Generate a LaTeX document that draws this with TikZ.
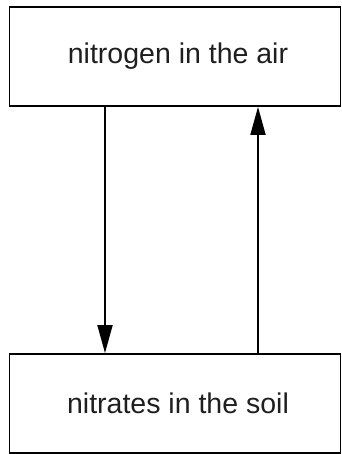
\documentclass[tikz,border=0pt]{standalone}
\usepackage{fontspec}
\setmainfont{Liberation Sans}
\usetikzlibrary{arrows.meta}
\begin{document}
\begin{tikzpicture}[x=1pt,y=1pt,
  boxnode/.style={draw=black,line width=1.8pt,minimum width=331pt,minimum height=99pt,inner sep=0pt,font=\fontsize{28.5}{34}\selectfont,text=black!88},
  flow/.style={line width=1.8pt,-{Triangle[length=28pt,width=15pt]}}]
\useasboundingbox (0,0) rectangle (341,454);
\node[boxnode] (air) at (175,397.5) {\hspace{6pt}nitrogen in the air};
\node[boxnode] (soil) at (175,50.5) {\hspace{6pt}nitrates in the soil};
\coordinate (dx) at (105,0);
\coordinate (ux) at (258,0);
\draw[flow] (air.south -| dx) -- (soil.north -| dx);
\draw[flow] (soil.north -| ux) -- (air.south -| ux);
\end{tikzpicture}
\end{document}
